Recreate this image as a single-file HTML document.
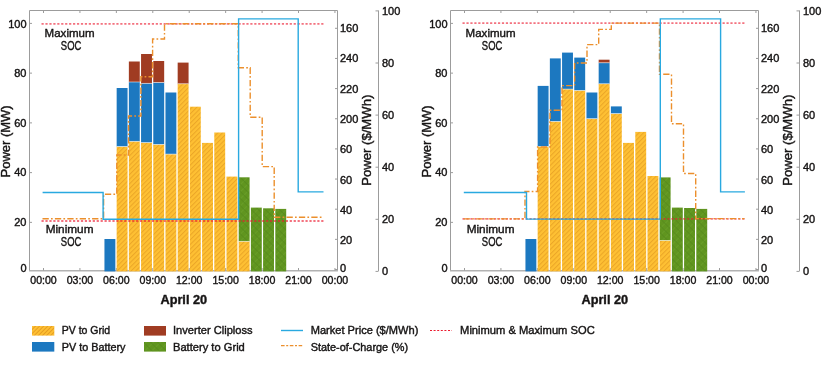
<!DOCTYPE html>
<html><head><meta charset="utf-8"><style>
html,body{margin:0;padding:0;background:#fff;width:825px;height:381px;overflow:hidden}
svg{display:block}
text{font-family:'Liberation Sans', sans-serif;fill:#161414;stroke:#161414;stroke-width:0.4px}
svg{will-change:transform}
.tk{font-size:11px}
.ttl{font-size:12.5px}
.xt{font-size:12.7px;font-weight:bold}
.an{font-size:11.6px}
.an2{font-size:12.2px}
.lg{font-size:11px}
</style></head><body>
<svg width="825" height="381" viewBox="0 0 825 381">
<defs>
<pattern id="hy" patternUnits="userSpaceOnUse" width="3.3" height="3.3" patternTransform="rotate(45)">
<rect width="3.3" height="3.3" fill="#fec033"/><rect x="0" y="0" width="1.0" height="3.3" fill="#eba627"/>
</pattern>
<pattern id="hyl" patternUnits="userSpaceOnUse" width="2.9" height="2.9" patternTransform="rotate(45)">
<rect width="2.9" height="2.9" fill="#fec033"/><rect x="0" y="0" width="0.9" height="2.9" fill="#e39a22"/>
</pattern>
<pattern id="hg" patternUnits="userSpaceOnUse" width="5" height="5" patternTransform="rotate(45)">
<rect width="5" height="5" fill="#60951f"/><rect x="0" y="0" width="0.8" height="5" fill="#6a9f2a"/><rect x="0" y="0" width="5" height="0.8" fill="#568a1c"/>
</pattern>
</defs>
<rect width="825" height="381" fill="#ffffff"/>
<g transform="translate(0,0)">
<path d="M29.5,270.7 V10.5 H337.5 V270.7" fill="none" stroke="#9c9c9c" stroke-width="1"/>
<line x1="29" y1="270.7" x2="338" y2="270.7" stroke="#b2b2b2" stroke-width="1.6"/>
<line x1="378.5" y1="10.5" x2="378.5" y2="271" stroke="#9c9c9c" stroke-width="1"/>
<path d="M29.5,222.36 h2.5 M29.5,172.62 h2.5 M29.5,122.88 h2.5 M29.5,73.14 h2.5 M29.5,23.4 h2.5 M43.5,270.5 v-2.5 M43.5,10.5 v2.5 M79.93,270.5 v-2.5 M79.93,10.5 v2.5 M116.36,270.5 v-2.5 M116.36,10.5 v2.5 M152.79,270.5 v-2.5 M152.79,10.5 v2.5 M189.22,270.5 v-2.5 M189.22,10.5 v2.5 M225.65,270.5 v-2.5 M225.65,10.5 v2.5 M262.08,270.5 v-2.5 M262.08,10.5 v2.5 M298.51,270.5 v-2.5 M298.51,10.5 v2.5 M334.94,270.5 v-2.5 M334.94,10.5 v2.5 M337.5,269.5 h-2.5 M337.5,239.35 h-2.5 M337.5,209.2 h-2.5 M337.5,179.05 h-2.5 M337.5,148.9 h-2.5 M337.5,118.75 h-2.5 M337.5,88.6 h-2.5 M337.5,58.45 h-2.5 M337.5,28.3 h-2.5 M378.5,271.4 h-3 M378.5,219.3 h-3 M378.5,167.2 h-3 M378.5,115.1 h-3 M378.5,63 h-3 M378.5,10.9 h-3" stroke="#9c9c9c" stroke-width="1" fill="none"/>
<rect x="104.45" y="239" width="10.9" height="32.4" fill="#1c78c0"/>
<rect x="116.66" y="146.5" width="10.9" height="124.9" fill="url(#hy)"/>
<rect x="116.66" y="88" width="10.9" height="58.5" fill="#1c78c0"/>
<rect x="116.66" y="146.15" width="10.9" height="0.7" fill="#ffffff" opacity="0.75"/>
<rect x="128.86" y="141.3" width="10.9" height="130.1" fill="url(#hy)"/>
<rect x="128.86" y="82" width="10.9" height="59.3" fill="#1c78c0"/>
<rect x="128.86" y="140.95" width="10.9" height="0.7" fill="#ffffff" opacity="0.75"/>
<rect x="128.86" y="61.5" width="10.9" height="20.5" fill="#a03c22"/>
<rect x="128.86" y="81.65" width="10.9" height="0.7" fill="#ffffff" opacity="0.75"/>
<rect x="141.06" y="142.6" width="10.9" height="128.8" fill="url(#hy)"/>
<rect x="141.06" y="83.3" width="10.9" height="59.3" fill="#1c78c0"/>
<rect x="141.06" y="142.25" width="10.9" height="0.7" fill="#ffffff" opacity="0.75"/>
<rect x="141.06" y="54" width="10.9" height="29.3" fill="#a03c22"/>
<rect x="141.06" y="82.95" width="10.9" height="0.7" fill="#ffffff" opacity="0.75"/>
<rect x="153.27" y="144.4" width="10.9" height="127" fill="url(#hy)"/>
<rect x="153.27" y="82.5" width="10.9" height="61.9" fill="#1c78c0"/>
<rect x="153.27" y="144.05" width="10.9" height="0.7" fill="#ffffff" opacity="0.75"/>
<rect x="153.27" y="61" width="10.9" height="21.5" fill="#a03c22"/>
<rect x="153.27" y="82.15" width="10.9" height="0.7" fill="#ffffff" opacity="0.75"/>
<rect x="165.47" y="154.1" width="10.9" height="117.3" fill="url(#hy)"/>
<rect x="165.47" y="92.5" width="10.9" height="61.6" fill="#1c78c0"/>
<rect x="165.47" y="153.75" width="10.9" height="0.7" fill="#ffffff" opacity="0.75"/>
<rect x="177.67" y="83.8" width="10.9" height="187.6" fill="url(#hy)"/>
<rect x="177.67" y="62.6" width="10.9" height="21.2" fill="#a03c22"/>
<rect x="177.67" y="83.45" width="10.9" height="0.7" fill="#ffffff" opacity="0.75"/>
<rect x="189.88" y="106.7" width="10.9" height="164.7" fill="url(#hy)"/>
<rect x="202.08" y="142.9" width="10.9" height="128.5" fill="url(#hy)"/>
<rect x="214.28" y="132.5" width="10.9" height="138.9" fill="url(#hy)"/>
<rect x="226.48" y="176.6" width="10.9" height="94.8" fill="url(#hy)"/>
<rect x="238.69" y="241.3" width="10.9" height="30.1" fill="url(#hy)"/>
<rect x="238.69" y="177.3" width="10.9" height="64" fill="url(#hg)"/>
<rect x="238.69" y="240.95" width="10.9" height="0.7" fill="#ffffff" opacity="0.75"/>
<rect x="250.89" y="207.6" width="10.9" height="63.8" fill="url(#hg)"/>
<rect x="263.09" y="208.3" width="10.9" height="63.1" fill="url(#hg)"/>
<rect x="275.3" y="208.9" width="10.9" height="62.5" fill="url(#hg)"/>
<line x1="41.5" y1="23.9" x2="324" y2="23.9" stroke="#ec1c30" stroke-opacity="0.62" stroke-width="1.9" stroke-dasharray="2.2,1.74"/>
<line x1="41.5" y1="221" x2="324" y2="221" stroke="#ec1c30" stroke-opacity="0.62" stroke-width="1.9" stroke-dasharray="2.2,1.74"/>
<path d="M42.5,218.7 L103.6,218.7 L103.6,194.3 L116.8,194.3 L116.8,155 L128.6,155 L128.6,116 L140.9,116 L140.9,76.7 L152.6,76.7 L152.6,39 L164.5,39 L164.5,23.8 L238.3,23.8 L238.3,67.7 L250.2,67.7 L250.2,117.2 L262.2,117.2 L262.2,166.6 L274.2,166.6 L274.2,217.3 L323.5,217.3" fill="none" stroke="#ec8f2c" stroke-width="1.4" stroke-dasharray="6.3,2.2,1.7,2.2"/>
<path d="M42.6,192.5 L103.1,192.5 L103.1,219.2 L238.6,219.2 L238.6,18.9 L298.2,18.9 L298.2,191.9 L323.5,191.9" fill="none" stroke="#29a9e0" stroke-width="1.4"/>
<text x="26.5" y="271.85" text-anchor="end" class="tk">0</text>
<text x="26.5" y="225.95" text-anchor="end" class="tk">20</text>
<text x="26.5" y="176.45" text-anchor="end" class="tk">40</text>
<text x="26.5" y="126.95" text-anchor="end" class="tk">60</text>
<text x="26.5" y="77.45" text-anchor="end" class="tk">80</text>
<text x="26.5" y="27.95" text-anchor="end" class="tk">100</text>
<text x="43.5" y="283.8" text-anchor="middle" class="tk" textLength="26.5" lengthAdjust="spacingAndGlyphs">00:00</text>
<text x="79.93" y="283.8" text-anchor="middle" class="tk" textLength="26.5" lengthAdjust="spacingAndGlyphs">03:00</text>
<text x="116.36" y="283.8" text-anchor="middle" class="tk" textLength="26.5" lengthAdjust="spacingAndGlyphs">06:00</text>
<text x="152.79" y="283.8" text-anchor="middle" class="tk" textLength="26.5" lengthAdjust="spacingAndGlyphs">09:00</text>
<text x="189.22" y="283.8" text-anchor="middle" class="tk" textLength="26.5" lengthAdjust="spacingAndGlyphs">12:00</text>
<text x="225.65" y="283.8" text-anchor="middle" class="tk" textLength="26.5" lengthAdjust="spacingAndGlyphs">15:00</text>
<text x="262.08" y="283.8" text-anchor="middle" class="tk" textLength="26.5" lengthAdjust="spacingAndGlyphs">18:00</text>
<text x="298.51" y="283.8" text-anchor="middle" class="tk" textLength="26.5" lengthAdjust="spacingAndGlyphs">21:00</text>
<text x="334.94" y="283.8" text-anchor="middle" class="tk" textLength="26.5" lengthAdjust="spacingAndGlyphs">00:00</text>
<text x="340" y="271.65" class="tk">0</text>
<text x="340" y="244.38" class="tk">20</text>
<text x="340" y="214.01" class="tk">40</text>
<text x="340" y="183.64" class="tk">60</text>
<text x="340" y="153.27" class="tk">60</text>
<text x="340" y="122.9" class="tk">200</text>
<text x="340" y="92.53" class="tk">220</text>
<text x="340" y="62.16" class="tk">240</text>
<text x="340" y="31.79" class="tk">160</text>
<text x="382" y="275.3" class="tk">0</text>
<text x="382" y="223.2" class="tk">20</text>
<text x="382" y="171.1" class="tk">40</text>
<text x="382" y="119" class="tk">60</text>
<text x="382" y="66.9" class="tk">80</text>
<text x="382" y="14.8" class="tk">100</text>
<text transform="translate(10.4,141.4) rotate(-90)" text-anchor="middle" class="ttl" textLength="72.2" lengthAdjust="spacingAndGlyphs">Power (MW)</text>
<text transform="translate(371.3,140.2) rotate(-90)" text-anchor="middle" class="ttl" textLength="91" lengthAdjust="spacingAndGlyphs">Power ($/MWh)</text>
<text x="183.8" y="303.6" text-anchor="middle" class="xt">April 20</text>
<text x="69.6" y="36.8" text-anchor="middle" class="an" textLength="50" lengthAdjust="spacingAndGlyphs">Maximum</text>
<text x="71.1" y="49.7" text-anchor="middle" class="an2" textLength="20.5" lengthAdjust="spacingAndGlyphs">SOC</text>
<text x="69.6" y="232.8" text-anchor="middle" class="an" textLength="47.8" lengthAdjust="spacingAndGlyphs">Minimum</text>
<text x="71.1" y="246" text-anchor="middle" class="an2" textLength="20.5" lengthAdjust="spacingAndGlyphs">SOC</text>
</g>
<g transform="translate(421,0)">
<path d="M29.5,270.7 V10.5 H337.5 V270.7" fill="none" stroke="#9c9c9c" stroke-width="1"/>
<line x1="29" y1="270.7" x2="338" y2="270.7" stroke="#b2b2b2" stroke-width="1.6"/>
<line x1="378.5" y1="10.5" x2="378.5" y2="271" stroke="#9c9c9c" stroke-width="1"/>
<path d="M29.5,222.36 h2.5 M29.5,172.62 h2.5 M29.5,122.88 h2.5 M29.5,73.14 h2.5 M29.5,23.4 h2.5 M43.5,270.5 v-2.5 M43.5,10.5 v2.5 M79.93,270.5 v-2.5 M79.93,10.5 v2.5 M116.36,270.5 v-2.5 M116.36,10.5 v2.5 M152.79,270.5 v-2.5 M152.79,10.5 v2.5 M189.22,270.5 v-2.5 M189.22,10.5 v2.5 M225.65,270.5 v-2.5 M225.65,10.5 v2.5 M262.08,270.5 v-2.5 M262.08,10.5 v2.5 M298.51,270.5 v-2.5 M298.51,10.5 v2.5 M334.94,270.5 v-2.5 M334.94,10.5 v2.5 M337.5,269.5 h-2.5 M337.5,239.35 h-2.5 M337.5,209.2 h-2.5 M337.5,179.05 h-2.5 M337.5,148.9 h-2.5 M337.5,118.75 h-2.5 M337.5,88.6 h-2.5 M337.5,58.45 h-2.5 M337.5,28.3 h-2.5 M378.5,271.4 h-3 M378.5,219.3 h-3 M378.5,167.2 h-3 M378.5,115.1 h-3 M378.5,63 h-3 M378.5,10.9 h-3" stroke="#9c9c9c" stroke-width="1" fill="none"/>
<rect x="104.45" y="239" width="10.9" height="32.4" fill="#1c78c0"/>
<rect x="116.66" y="146.5" width="10.9" height="124.9" fill="url(#hy)"/>
<rect x="116.66" y="85.9" width="10.9" height="60.6" fill="#1c78c0"/>
<rect x="116.66" y="146.15" width="10.9" height="0.7" fill="#ffffff" opacity="0.75"/>
<rect x="128.86" y="121.4" width="10.9" height="150" fill="url(#hy)"/>
<rect x="128.86" y="58.4" width="10.9" height="63" fill="#1c78c0"/>
<rect x="128.86" y="121.05" width="10.9" height="0.7" fill="#ffffff" opacity="0.75"/>
<rect x="141.06" y="89.1" width="10.9" height="182.3" fill="url(#hy)"/>
<rect x="141.06" y="52.6" width="10.9" height="36.5" fill="#1c78c0"/>
<rect x="141.06" y="88.75" width="10.9" height="0.7" fill="#ffffff" opacity="0.75"/>
<rect x="153.27" y="90.4" width="10.9" height="181" fill="url(#hy)"/>
<rect x="153.27" y="57.6" width="10.9" height="32.8" fill="#1c78c0"/>
<rect x="153.27" y="90.05" width="10.9" height="0.7" fill="#ffffff" opacity="0.75"/>
<rect x="165.47" y="118.7" width="10.9" height="152.7" fill="url(#hy)"/>
<rect x="165.47" y="92.5" width="10.9" height="26.2" fill="#1c78c0"/>
<rect x="165.47" y="118.35" width="10.9" height="0.7" fill="#ffffff" opacity="0.75"/>
<rect x="177.67" y="83.8" width="10.9" height="187.6" fill="url(#hy)"/>
<rect x="177.67" y="62.8" width="10.9" height="21" fill="#1c78c0"/>
<rect x="177.67" y="83.45" width="10.9" height="0.7" fill="#ffffff" opacity="0.75"/>
<rect x="177.67" y="59.7" width="10.9" height="3.1" fill="#a03c22"/>
<rect x="177.67" y="62.45" width="10.9" height="0.7" fill="#ffffff" opacity="0.75"/>
<rect x="189.88" y="113.6" width="10.9" height="157.8" fill="url(#hy)"/>
<rect x="189.88" y="106.4" width="10.9" height="7.2" fill="#1c78c0"/>
<rect x="189.88" y="113.25" width="10.9" height="0.7" fill="#ffffff" opacity="0.75"/>
<rect x="202.08" y="142.9" width="10.9" height="128.5" fill="url(#hy)"/>
<rect x="214.28" y="131.9" width="10.9" height="139.5" fill="url(#hy)"/>
<rect x="226.48" y="176" width="10.9" height="95.4" fill="url(#hy)"/>
<rect x="238.69" y="240.4" width="10.9" height="31" fill="url(#hy)"/>
<rect x="238.69" y="177.4" width="10.9" height="63" fill="url(#hg)"/>
<rect x="238.69" y="240.05" width="10.9" height="0.7" fill="#ffffff" opacity="0.75"/>
<rect x="250.89" y="207.6" width="10.9" height="63.8" fill="url(#hg)"/>
<rect x="263.09" y="208" width="10.9" height="63.4" fill="url(#hg)"/>
<rect x="275.3" y="208.9" width="10.9" height="62.5" fill="url(#hg)"/>
<line x1="41.5" y1="23.1" x2="324" y2="23.1" stroke="#ec1c30" stroke-opacity="0.62" stroke-width="1.9" stroke-dasharray="2.2,1.74"/>
<line x1="41.5" y1="218.9" x2="324" y2="218.9" stroke="#ec1c30" stroke-opacity="0.62" stroke-width="1.9" stroke-dasharray="2.2,1.74"/>
<path d="M42.8,218.9 L104,218.9 L104,191.5 L116.6,191.5 L116.6,147 L129,147 L129,110.3 L141,110.3 L141,85.6 L153.6,85.6 L153.6,63 L166,63 L166,44.6 L177.7,44.6 L177.7,29.4 L190.3,29.4 L190.3,23.1 L238.5,23.1 L238.5,74.3 L250.5,74.3 L250.5,123.7 L262.5,123.7 L262.5,173.5 L274.7,173.5 L274.7,218.6 L323.5,218.6" fill="none" stroke="#ec8f2c" stroke-width="1.4" stroke-dasharray="6.3,2.2,1.7,2.2"/>
<path d="M42.8,192.5 L105.5,192.5 L105.5,219.1 L239.3,219.1 L239.3,18.9 L299.6,18.9 L299.6,191.9 L323.9,191.9" fill="none" stroke="#29a9e0" stroke-width="1.4"/>
<text x="26.5" y="271.85" text-anchor="end" class="tk">0</text>
<text x="26.5" y="225.95" text-anchor="end" class="tk">20</text>
<text x="26.5" y="176.45" text-anchor="end" class="tk">40</text>
<text x="26.5" y="126.95" text-anchor="end" class="tk">60</text>
<text x="26.5" y="77.45" text-anchor="end" class="tk">80</text>
<text x="26.5" y="27.95" text-anchor="end" class="tk">100</text>
<text x="43.5" y="283.8" text-anchor="middle" class="tk" textLength="26.5" lengthAdjust="spacingAndGlyphs">00:00</text>
<text x="79.93" y="283.8" text-anchor="middle" class="tk" textLength="26.5" lengthAdjust="spacingAndGlyphs">03:00</text>
<text x="116.36" y="283.8" text-anchor="middle" class="tk" textLength="26.5" lengthAdjust="spacingAndGlyphs">06:00</text>
<text x="152.79" y="283.8" text-anchor="middle" class="tk" textLength="26.5" lengthAdjust="spacingAndGlyphs">09:00</text>
<text x="189.22" y="283.8" text-anchor="middle" class="tk" textLength="26.5" lengthAdjust="spacingAndGlyphs">12:00</text>
<text x="225.65" y="283.8" text-anchor="middle" class="tk" textLength="26.5" lengthAdjust="spacingAndGlyphs">15:00</text>
<text x="262.08" y="283.8" text-anchor="middle" class="tk" textLength="26.5" lengthAdjust="spacingAndGlyphs">18:00</text>
<text x="298.51" y="283.8" text-anchor="middle" class="tk" textLength="26.5" lengthAdjust="spacingAndGlyphs">21:00</text>
<text x="334.94" y="283.8" text-anchor="middle" class="tk" textLength="26.5" lengthAdjust="spacingAndGlyphs">00:00</text>
<text x="340" y="271.65" class="tk">0</text>
<text x="340" y="244.38" class="tk">20</text>
<text x="340" y="214.01" class="tk">40</text>
<text x="340" y="183.64" class="tk">60</text>
<text x="340" y="153.27" class="tk">60</text>
<text x="340" y="122.9" class="tk">200</text>
<text x="340" y="92.53" class="tk">220</text>
<text x="340" y="62.16" class="tk">240</text>
<text x="340" y="31.79" class="tk">160</text>
<text x="382" y="275.3" class="tk">0</text>
<text x="382" y="223.2" class="tk">20</text>
<text x="382" y="171.1" class="tk">40</text>
<text x="382" y="119" class="tk">60</text>
<text x="382" y="66.9" class="tk">80</text>
<text x="382" y="14.8" class="tk">100</text>
<text transform="translate(10.4,141.4) rotate(-90)" text-anchor="middle" class="ttl" textLength="72.2" lengthAdjust="spacingAndGlyphs">Power (MW)</text>
<text transform="translate(371.3,140.2) rotate(-90)" text-anchor="middle" class="ttl" textLength="91" lengthAdjust="spacingAndGlyphs">Power ($/MWh)</text>
<text x="183.8" y="303.6" text-anchor="middle" class="xt">April 20</text>
<text x="69.6" y="36.8" text-anchor="middle" class="an" textLength="50" lengthAdjust="spacingAndGlyphs">Maximum</text>
<text x="71.1" y="49.7" text-anchor="middle" class="an2" textLength="20.5" lengthAdjust="spacingAndGlyphs">SOC</text>
<text x="69.6" y="232.8" text-anchor="middle" class="an" textLength="47.8" lengthAdjust="spacingAndGlyphs">Minimum</text>
<text x="71.1" y="246" text-anchor="middle" class="an2" textLength="20.5" lengthAdjust="spacingAndGlyphs">SOC</text>
</g>

<rect x="32" y="326" width="22.3" height="9.6" fill="url(#hyl)"/>
<rect x="32" y="342" width="22.3" height="9.6" fill="#1c78c0"/>
<text x="61.7" y="334.3" class="lg" textLength="48.5" lengthAdjust="spacingAndGlyphs">PV to Grid</text>
<text x="61.7" y="350.7" class="lg" textLength="63.8" lengthAdjust="spacingAndGlyphs">PV to Battery</text>
<rect x="144" y="326" width="22" height="9.6" fill="#a03c22"/>
<rect x="144" y="342" width="22" height="9.6" fill="url(#hg)"/>
<text x="173" y="334.3" class="lg" textLength="79.6" lengthAdjust="spacingAndGlyphs">Inverter Cliploss</text>
<text x="173" y="350.7" class="lg" textLength="71.8" lengthAdjust="spacingAndGlyphs">Battery to Grid</text>
<line x1="281" y1="330.5" x2="303" y2="330.5" stroke="#29a9e0" stroke-width="1.4"/>
<line x1="281" y1="345.6" x2="303" y2="345.6" stroke="#ec8f2c" stroke-width="1.4" stroke-dasharray="3.6,1.6,2,1.6"/>
<text x="310.7" y="334.3" class="lg" textLength="107.7" lengthAdjust="spacingAndGlyphs">Market Price ($/MWh)</text>
<text x="310.7" y="350.7" class="lg" textLength="97.4" lengthAdjust="spacingAndGlyphs">State-of-Charge (%)</text>
<line x1="430" y1="330.5" x2="452" y2="330.5" stroke="#ec1c30" stroke-width="1.2" stroke-dasharray="2,1.6"/>
<text x="460.1" y="334.3" class="lg" textLength="134.6" lengthAdjust="spacingAndGlyphs">Minimum &amp; Maximum SOC</text>

</svg>
</body></html>
